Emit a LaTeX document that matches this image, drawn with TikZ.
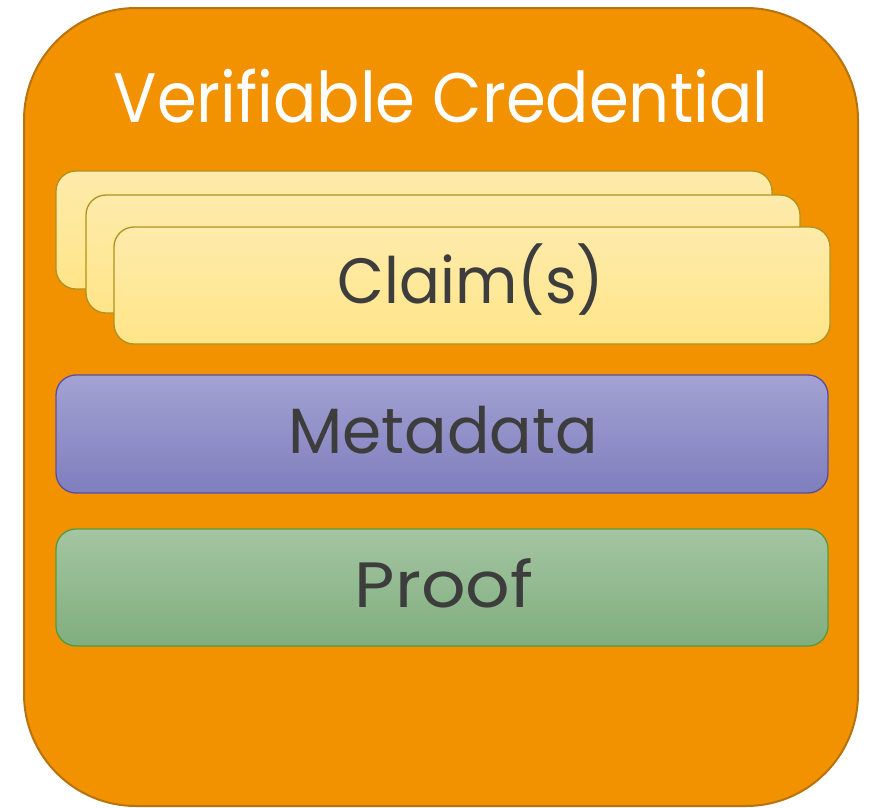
\documentclass[tikz,border=0pt]{standalone}
\usepackage{fontspec}
\setmainfont{Poppins}
\definecolor{vcfill}{HTML}{F29200}
\definecolor{vcdraw}{HTML}{B7730F}
\definecolor{claimtop}{HTML}{FEEBAB}
\definecolor{claimbot}{HTML}{FFE588}
\definecolor{claimdraw}{HTML}{B0921E}
\definecolor{metatop}{HTML}{A3A2D2}
\definecolor{metabot}{HTML}{7F7EBE}
\definecolor{metadraw}{HTML}{5B4E9E}
\definecolor{prooftop}{HTML}{A4C5A2}
\definecolor{proofbot}{HTML}{80AE7E}
\definecolor{proofdraw}{HTML}{559A3E}
\definecolor{labelgray}{HTML}{3D3D3D}
\tikzset{
  panel/.style={rounded corners=20pt, line width=1.3pt, inner sep=0pt},
  claimbox/.style={panel, top color=claimtop, bottom color=claimbot, draw=claimdraw},
  metabox/.style={panel, top color=metatop, bottom color=metabot, draw=metadraw},
  proofbox/.style={panel, top color=prooftop, bottom color=proofbot, draw=proofdraw},
  boxlabel/.style={anchor=base, inner sep=0pt, text=labelgray, font=\fontsize{64}{70}\selectfont},
}
\begin{document}
\begin{tikzpicture}[x=1pt, y=-1pt]
  \useasboundingbox (0,0) rectangle (871,807);
  % outer credential container
  \node[draw=vcdraw, fill=vcfill, line width=2pt, rounded corners=112pt,
        minimum width=834pt, minimum height=798pt, inner sep=0pt] (vc) at (441,407) {};
  \node[anchor=base, inner sep=0pt, text=white, font=\fontsize{70}{76}\selectfont]
        (title) at (441,122) {\scalebox{0.916}[1]{Verifiable Credential}};
  % stacked claim cards
  \node[claimbox, minimum width=716pt, minimum height=118pt] (claimA) at (414,230) {};
  \node[claimbox, minimum width=714pt, minimum height=118pt] (claimB) at (443,254) {};
  \node[claimbox, minimum width=716pt, minimum height=117pt] (claimC) at (472,285.5) {};
  \node[boxlabel] (claimtext) at (471,303) {\scalebox{0.946}[1]{Claim(s)}};
  % metadata and proof bands
  \node[metabox, minimum width=772pt, minimum height=118pt] (meta) at (442,434) {};
  \node[boxlabel] (metatext) at (443,453) {\scalebox{0.984}[1]{Metadata}};
  \node[proofbox, minimum width=772pt, minimum height=117pt] (proof) at (442,587.5) {};
  \node[boxlabel] (prooftext) at (444,607) {\scalebox{1.09}[1]{Proof}};
\end{tikzpicture}
\end{document}
